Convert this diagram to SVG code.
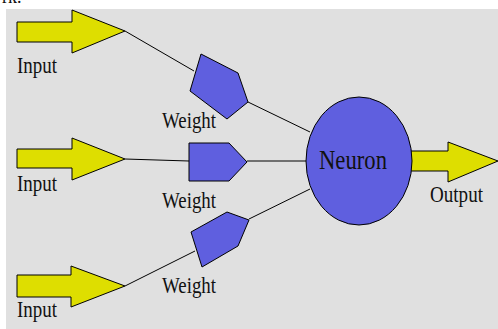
<svg xmlns="http://www.w3.org/2000/svg" width="498" height="329" viewBox="0 0 498 329">
<style>
.arrow{fill:#dede00;stroke:#000;stroke-width:1}
.weight{fill:#5f5fdf;stroke:#000;stroke-width:1}
text{font-family:'Liberation Serif','Times New Roman',serif;fill:#111}
.lbl{font-size:23px}
.conn{stroke:#000;stroke-width:1;fill:none}
</style>
<rect x="0" y="0" width="498" height="329" fill="#ffffff"/>
<rect x="6" y="9" width="492" height="320" fill="#e0e0e0"/>
<text x="2" y="3" font-size="18">rk.</text>
<g id="connectors">
<line class="conn" x1="125" y1="31" x2="194" y2="71"/>
<line class="conn" x1="248" y1="102" x2="310" y2="132"/>
<line class="conn" x1="125" y1="159" x2="189" y2="161"/>
<line class="conn" x1="247" y1="161" x2="306" y2="161"/>
<line class="conn" x1="125" y1="286" x2="195" y2="251"/>
<line class="conn" x1="249" y1="219" x2="310" y2="189"/>
</g>
<g id="input1">
<polygon class="arrow" points="17,22 72,22 72,10 125,31 72,53 72,42 17,42"/>
<text class="lbl" x="17" y="73" textLength="40" lengthAdjust="spacingAndGlyphs">Input</text>
</g>
<g id="input2">
<polygon class="arrow" points="17,149 72,149 72,138 125,159 72,180 72,168 17,168"/>
<text class="lbl" x="17" y="191" textLength="40" lengthAdjust="spacingAndGlyphs">Input</text>
</g>
<g id="input3">
<polygon class="arrow" points="17,275 71,275 71,266 125,286 71,307 71,297 17,297"/>
<text class="lbl" x="17" y="317" textLength="40" lengthAdjust="spacingAndGlyphs">Input</text>
</g>
<g id="weight1">
<polygon class="weight" points="201,54 238,73 248,102 227,119 190,91"/>
<text class="lbl" x="162" y="128" textLength="54" lengthAdjust="spacingAndGlyphs">Weight</text>
</g>
<g id="weight2">
<polygon class="weight" points="189,143 229,143 247,162 229,181 189,181"/>
<text class="lbl" x="162" y="208" textLength="54" lengthAdjust="spacingAndGlyphs">Weight</text>
</g>
<g id="weight3">
<polygon class="weight" points="191,232 227,212 249,220 238,246 202,267"/>
<text class="lbl" x="162" y="293" textLength="54" lengthAdjust="spacingAndGlyphs">Weight</text>
</g>
<g id="output">
<polygon class="arrow" points="405,151 448,151 448,142 498,161 448,182 448,171 405,171"/>
<text class="lbl" x="430" y="202" textLength="53" lengthAdjust="spacingAndGlyphs">Output</text>
</g>
<g id="neuron">
<ellipse class="weight" cx="359" cy="161" rx="53" ry="64"/>
<text x="319" y="169" font-size="28" textLength="68" lengthAdjust="spacingAndGlyphs">Neuron</text>
</g>
</svg>
